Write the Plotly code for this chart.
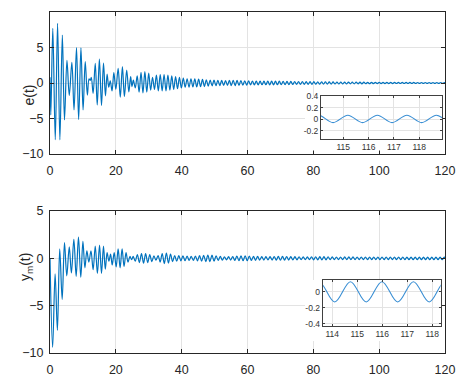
import numpy as np
import plotly.graph_objects as go

# e(t): extrema, first 25 s
e_t_early = [0.0, 0.25, 0.85, 1.6, 2.3, 3.0, 3.75, 4.4, 5.15, 5.85,
             6.65, 7.3, 8.05, 8.7, 9.4, 10.05, 10.7, 11.35, 11.85, 12.2,
             12.55, 13.1, 13.75, 14.35, 15.0, 15.65, 16.25, 16.85, 17.35, 17.85,
             18.3, 18.85, 19.4, 20.0, 20.7, 21.35, 22.0, 22.6, 23.3, 23.95,
             24.5, 24.9]
e_early = [0.8, -4.5, 7.7, -8.0, 8.4, -8.0, 6.75, -5.2, 3.2, -1.75,
           2.9, -3.8, 5.0, -5.15, 4.95, -3.8, 3.0, -1.7, 0.6, 0.35,
           0.8, -1.45, 2.75, -3.1, 3.35, -3.15, 2.8, -1.8, 1.25, -0.6,
           0.3, -1.1, 1.45, -0.9, 2.05, -2.0, 2.3, -1.9, 1.8, -1.25,
           0.9, -0.5]
# e(t): extrema after 25 s, one every half period
e_tail_t0 = 25.32
e_tail_half = 0.5835
e_tail = [
    0.4, -0.7, 1.0, -1.3, 1.5, -1.4, 1.6, -1.3, 1.4, -1.0,
    0.8, -0.9, 1.1, -1.1, 1.2, -1.1, 1.2, -1.1, 1.1, -1.0,
    1.0, -0.9, 0.9, -0.8, 0.8, -0.7, 0.7, -0.6, 0.6, -0.6,
    0.6, -0.55, 0.6, -0.55, 0.55, -0.5, 0.5, -0.5, 0.45, -0.45,
    0.4, -0.4, 0.4, -0.38, 0.38, -0.36, 0.36, -0.35, 0.35, -0.34,
    0.36, -0.36, 0.38, -0.36, 0.36, -0.34, 0.34, -0.32, 0.32, -0.3,
    0.3, -0.28, 0.28, -0.27, 0.27, -0.26, 0.26, -0.25, 0.25, -0.25,
    0.26, -0.26, 0.27, -0.26, 0.26, -0.25, 0.25, -0.24, 0.24, -0.23,
    0.23, -0.22, 0.22, -0.21, 0.21, -0.2, 0.2, -0.2, 0.2, -0.19,
    0.19, -0.18, 0.18, -0.18, 0.18, -0.17, 0.17, -0.17, 0.17, -0.16,
    0.16, -0.15, 0.15, -0.15, 0.15, -0.14, 0.14, -0.14, 0.14, -0.13,
    0.13, -0.13, 0.13, -0.12, 0.12, -0.12, 0.12, -0.11, 0.11, -0.11,
    0.11, -0.1, 0.1, -0.1, 0.1, -0.09, 0.09, -0.09, 0.09, -0.09,
    0.09, -0.08, 0.09, -0.08, 0.08, -0.08, 0.08, -0.07, 0.08, -0.07,
    0.08, -0.07, 0.075, -0.065, 0.075, -0.065, 0.075, -0.06, 0.072, -0.06,
    0.072, -0.058, 0.07, -0.058, 0.07, -0.058, 0.07, -0.058, 0.07, -0.058,
    0.07, -0.058, 0.07, -0.058,
]

# y_m(t): extrema, first 25 s
ym_t_early = [0.0, 0.8, 1.55, 2.25, 2.95, 3.7, 4.4, 5.1, 5.85, 6.5,
              7.25, 7.95, 8.65, 9.35, 10.0, 10.6, 11.2, 11.8, 12.45, 13.1,
              13.75, 14.4, 15.05, 15.65, 16.25, 16.8, 17.35, 17.9, 18.4, 18.9,
              19.5, 20.1, 20.7, 21.3, 21.9, 22.5, 23.1, 23.7, 24.3, 24.8]
ym_early = [0.0, -9.4, -1.65, -7.6, 1.0, -4.35, 1.65, -1.85, 1.2, -1.55,
            2.0, -1.9, 2.25, -2.0, 1.8, -1.0, 0.8, -0.4, 0.8, -1.2,
            1.3, -1.6, 1.4, -1.6, 1.3, -1.15, 0.6, -0.3, 0.45, -0.7,
            0.6, -0.9, 1.0, -1.0, 1.0, -0.85, 0.6, -0.4, 0.2, -0.15]
# y_m(t): extrema after 25 s, one every half period
ym_tail_t0 = 25.27
ym_tail_half = 0.63
ym_tail = [
    0.2, -0.3, 0.4, -0.45, 0.5, -0.5, 0.5, -0.45, 0.4, -0.35,
    0.25, -0.2, 0.3, -0.4, 0.5, -0.55, 0.55, -0.5, 0.45, -0.35,
    0.3, -0.3, 0.28, -0.26, 0.25, -0.24, 0.24, -0.22, 0.22, -0.22,
    0.24, -0.26, 0.28, -0.3, 0.32, -0.34, 0.35, -0.34, 0.33, -0.3,
    0.27, -0.23, 0.2, -0.18, 0.16, -0.16, 0.17, -0.18, 0.19, -0.21,
    0.23, -0.24, 0.25, -0.25, 0.26, -0.25, 0.24, -0.23, 0.22, -0.21,
    0.2, -0.19, 0.18, -0.18, 0.17, -0.17, 0.18, -0.18, 0.19, -0.19,
    0.2, -0.2, 0.2, -0.19, 0.19, -0.18, 0.18, -0.17, 0.17, -0.16,
    0.16, -0.15, 0.15, -0.15, 0.15, -0.15, 0.16, -0.16, 0.16, -0.16,
    0.17, -0.17, 0.17, -0.16, 0.16, -0.15, 0.15, -0.14, 0.14, -0.14,
    0.14, -0.14, 0.15, -0.15, 0.15, -0.15, 0.15, -0.14, 0.14, -0.14,
    0.14, -0.14, 0.14, -0.14, 0.13, -0.13, 0.13, -0.13, 0.13, -0.13,
    0.13, -0.13, 0.13, -0.13, 0.13, -0.13, 0.13, -0.13, 0.13, -0.13,
    0.13, -0.13, 0.125, -0.13, 0.125, -0.13, 0.125, -0.13, 0.125, -0.13,
    0.125, -0.13, 0.125, -0.13, 0.125, -0.13, 0.125, -0.13, 0.125, -0.13,
    0.125, -0.13,
]

x_ticks = [0, 20, 40, 60, 80, 100, 120]
e_ticks = [-10, -5, 0, 5, 10]
ym_ticks = [-10, -5, 0, 5]
e_inset_xticks = [115, 116, 117, 118]
e_inset_yticks = [-0.2, 0, 0.2, 0.4]
ym_inset_xticks = [114, 115, 116, 117, 118]
ym_inset_yticks = [-0.4, -0.2, 0]

t_e = np.concatenate([e_t_early, e_tail_t0 + e_tail_half * np.arange(len(e_tail))])
v_e = np.concatenate([e_early, e_tail])
t_ym = np.concatenate([ym_t_early, ym_tail_t0 + ym_tail_half * np.arange(len(ym_tail))])
v_ym = np.concatenate([ym_early, ym_tail])

# the page body keeps an 8px margin, so the figure is smaller and shifted
OFF = 8
W, H = 466 - OFF, 383 - OFF
blue = "#0072BD"
axis_col = "#262626"
grid_col = "#e3e3e3"
font = "Liberation Sans, Arial, sans-serif"


def px_x(a, b):
    return [(a - OFF) / W, (b - OFF) / W]


def px_y(top, bottom):
    return [(H - (bottom - OFF)) / H, (H - (top - OFF)) / H]


fig = go.Figure()
line_main = dict(color=blue, width=1.2, shape="spline", smoothing=1)
line_inset = dict(color="#3a8fd4", width=1.1, shape="spline", smoothing=1)
fig.add_trace(go.Scatter(x=t_e, y=v_e, mode="lines", line=line_main, xaxis="x", yaxis="y"))
fig.add_trace(go.Scatter(x=t_ym, y=v_ym, mode="lines", line=line_main, xaxis="x2", yaxis="y2"))
# white backing behind the insets and their labels
fig.add_trace(go.Scatter(x=[None], y=[None], xaxis="x3", yaxis="y3"))
fig.add_trace(go.Scatter(x=[None], y=[None], xaxis="x4", yaxis="y4"))
fig.add_trace(go.Scatter(x=t_e, y=v_e, mode="lines", line=line_inset, xaxis="x5", yaxis="y5"))
fig.add_trace(go.Scatter(x=t_ym, y=v_ym, mode="lines", line=line_inset, xaxis="x6", yaxis="y6"))

main_ax = dict(
    showline=True, linecolor=axis_col, linewidth=1, mirror="ticks",
    ticks="inside", ticklen=4, tickcolor=axis_col, tickwidth=1,
    showgrid=True, gridcolor=grid_col, gridwidth=1, zeroline=False,
    automargin=False,
    tickfont=dict(family=font, size=12.5, color=axis_col),
)
inset_ax = dict(
    showline=True, linecolor="#404040", linewidth=1, mirror="ticks",
    ticks="inside", ticklen=2, tickcolor="#404040",
    showgrid=True, gridcolor=grid_col, gridwidth=1, zeroline=False,
    automargin=False,
    tickfont=dict(family=font, size=8.5, color="#333333"),
)
hidden_ax = dict(visible=False, showgrid=False, zeroline=False, automargin=False, range=[0, 1])

top_x, top_y = px_x(50, 445), px_y(12, 154)
bot_x, bot_y = px_x(50, 445), px_y(211, 353)

fig.update_layout(
    width=W, height=H, autosize=False,
    margin=dict(l=0, r=0, t=0, b=0),
    paper_bgcolor="white", plot_bgcolor="white",
    showlegend=False,
    xaxis=dict(main_ax, domain=top_x, range=[0, 120], tickvals=x_ticks, anchor="y", ticklabelstandoff=5),
    yaxis=dict(main_ax, domain=top_y, range=[-10, 10], tickvals=e_ticks, anchor="x", ticklabelstandoff=3),
    xaxis2=dict(main_ax, domain=bot_x, range=[0, 120], tickvals=x_ticks, anchor="y2", ticklabelstandoff=5),
    yaxis2=dict(main_ax, domain=bot_y, range=[-10, 5], tickvals=ym_ticks, anchor="x2", ticklabelstandoff=3),
    xaxis3=dict(hidden_ax, domain=px_x(305, 442), anchor="y3"),
    yaxis3=dict(hidden_ax, domain=px_y(96, 150.5), anchor="x3"),
    xaxis4=dict(hidden_ax, domain=px_x(305, 441), anchor="y4"),
    yaxis4=dict(hidden_ax, domain=px_y(280, 341), anchor="x4"),
    xaxis5=dict(inset_ax, domain=px_x(321, 442), range=[114.12, 118.9], tickvals=e_inset_xticks, anchor="y5"),
    yaxis5=dict(inset_ax, domain=px_y(96, 139), range=[-0.34, 0.4], tickvals=e_inset_yticks,
                ticktext=["-0.2", "0", "0.2", "0.4"], anchor="x5"),
    xaxis6=dict(inset_ax, domain=px_x(322.7, 440.7), range=[113.62, 118.34], tickvals=ym_inset_xticks, anchor="y6"),
    yaxis6=dict(inset_ax, domain=px_y(280, 326), range=[-0.43, 0.146], tickvals=ym_inset_yticks,
                ticktext=["-0.4", "-0.2", "0"], anchor="x6"),
)

fig.add_annotation(text="e(t)", xref="paper", yref="paper", x=(19 - OFF) / W, y=(H - (83 - OFF)) / H,
                   textangle=-90, showarrow=False, font=dict(family=font, size=14, color=axis_col))
fig.add_annotation(text="y<sub>m</sub>(t)", xref="paper", yref="paper", x=(15 - OFF) / W,
                   y=(H - (283 - OFF)) / H,
                   textangle=-90, showarrow=False, font=dict(family=font, size=14, color=axis_col))

fig.write_html("out.html")
